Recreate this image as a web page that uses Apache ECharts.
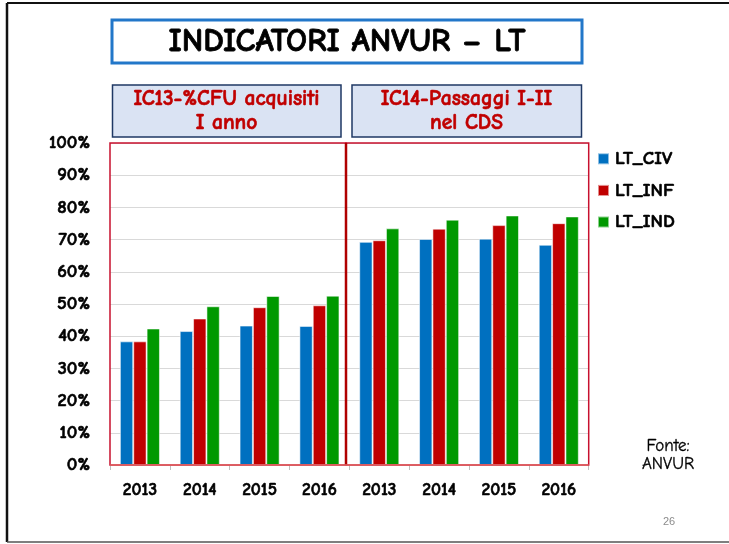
<!DOCTYPE html>
<html>
<head>
<meta charset="utf-8">
<script src="https://cdn.jsdelivr.net/npm/echarts@6/dist/echarts.min.js"></script>
<style>
html,body{margin:0;padding:0;background:#fff;}
#chart{width:729px;height:544px;}
</style>
</head>
<body>
<div id="chart"></div>
<script>
// ---- data ----
var years = ['2013', '2014', '2015', '2016', '2013', '2014', '2015', '2016'];
var seriesNames = ['LT_CIV', 'LT_INF', 'LT_IND'];
var civ = [38.4, 41.6, 43.3, 43.2, 69.3, 70.2, 70.3, 68.4];
var inf = [38.4, 45.5, 49.0, 49.6, 69.8, 73.4, 74.5, 75.1];
var ind = [42.4, 49.3, 52.5, 52.6, 73.5, 76.2, 77.5, 77.2];
var yTicks = [0, 10, 20, 30, 40, 50, 60, 70, 80, 90, 100];
var titleText = 'INDICATORI ANVUR \u2013 LT';
var panelTitles = ['IC13-%CFU acquisiti\nI anno', 'IC14-Passaggi I-II\nnel CDS'];
var sourceText = 'Fonte:\nANVUR';
var pageNumber = '26';

var FONT = "'Comic Sans MS', 'Comic Neue', 'DejaVu Sans', sans-serif";
var colors = ['#0070C0', '#C00000', '#009900'];

var G = {left: 110, right: 588.7, top: 143, bottom: 465};

var chart = echarts.init(document.getElementById('chart'), null, {renderer: 'canvas'});

function bar(name, data, color) {
  return {
    name: name, type: 'bar', data: data,
    barGap: '0%', barCategoryGap: '33%',
    itemStyle: {color: color, borderColor: 'rgba(255,255,255,0.55)', borderWidth: 1},
    z: 2
  };
}
function boldText(size, color, extra) {
  var s = {fontFamily: FONT, fontWeight: 'bold', fontSize: size, color: color, textBorderColor: color, textBorderWidth: 0.6};
  for (var k in (extra || {})) s[k] = extra[k];
  return s;
}

var option = {
  backgroundColor: '#ffffff',
  animation: false,
  color: colors,
  grid: {left: G.left, top: G.top, width: G.right - G.left, height: G.bottom - G.top, containLabel: false},
  legend: {
    orient: 'vertical', left: 597, top: 149, padding: 0,
    itemWidth: 11, itemHeight: 11, itemGap: 12,
    icon: 'rect',
    data: seriesNames,
    textStyle: boldText(19, '#000', {padding: [0, 0, 0, 1]})
  },
  xAxis: {
    type: 'category', data: years,
    axisLine: {show: false},
    axisTick: {show: true, length: 5, lineStyle: {color: '#BFBFBF'}},
    axisLabel: boldText(17.5, '#000', {margin: 16})
  },
  yAxis: {
    type: 'value', min: yTicks[0], max: yTicks[yTicks.length - 1], interval: yTicks[1] - yTicks[0],
    axisLine: {show: false}, axisTick: {show: false},
    splitLine: {lineStyle: {color: '#D9D9D9', width: 1}},
    axisLabel: boldText(18.5, '#000', {formatter: '{value}%', margin: 20})
  },
  series: [bar(seriesNames[0], civ, colors[0]), bar(seriesNames[1], inf, colors[1]), bar(seriesNames[2], ind, colors[2])],
  graphic: [
    // outer slide frame
    {type: 'line', shape: {x1: 7, y1: 3, x2: 729, y2: 3}, style: {stroke: '#111', lineWidth: 2}},
    {type: 'line', shape: {x1: 7, y1: 3, x2: 7, y2: 542}, style: {stroke: '#111', lineWidth: 2.5}},
    {type: 'line', shape: {x1: 7, y1: 542, x2: 729, y2: 542}, style: {stroke: '#555', lineWidth: 1.5}},
    // title
    {type: 'rect', shape: {x: 112, y: 20, width: 470, height: 43}, style: {fill: '#fff', stroke: '#2277C9', lineWidth: 3}},
    {type: 'text', x: 347, y: 42, style: {text: titleText, fontFamily: FONT, fontWeight: 'bold', fontSize: 33, fill: '#000', stroke: '#000', lineWidth: 0.8, align: 'center', verticalAlign: 'middle'}},
    // panel title boxes
    {type: 'rect', shape: {x: 112.5, y: 85, width: 228.5, height: 52}, style: {fill: '#DAE3F3', stroke: '#1F3864', lineWidth: 1.5}},
    {type: 'text', x: 226.5, y: 111, style: {text: panelTitles[0], fontFamily: FONT, fontWeight: 'bold', fontSize: 21.5, lineHeight: 24, fill: '#C00000', stroke: '#C00000', lineWidth: 0.6, align: 'center', verticalAlign: 'middle'}},
    {type: 'rect', shape: {x: 352, y: 85, width: 229.5, height: 52}, style: {fill: '#DAE3F3', stroke: '#1F3864', lineWidth: 1.5}},
    {type: 'text', x: 466.5, y: 111, style: {text: panelTitles[1], fontFamily: FONT, fontWeight: 'bold', fontSize: 21.5, lineHeight: 24, fill: '#C00000', stroke: '#C00000', lineWidth: 0.6, align: 'center', verticalAlign: 'middle'}},
    // panel frames
    {type: 'rect', z: 10, shape: {x: G.left, y: G.top, width: 346 - G.left, height: G.bottom - G.top}, style: {fill: null, stroke: '#C8102E', lineWidth: 1.5}},
    {type: 'rect', z: 10, shape: {x: 346, y: G.top, width: G.right - 346, height: G.bottom - G.top}, style: {fill: null, stroke: '#C8102E', lineWidth: 1.5}},
    {type: 'line', z: 11, shape: {x1: 346, y1: G.top, x2: 346, y2: G.bottom}, style: {stroke: '#B00000', lineWidth: 2.5}},
    {type: 'line', z: 11, shape: {x1: G.left, y1: G.bottom, x2: G.right, y2: G.bottom}, style: {stroke: '#E06666', lineWidth: 1.5}},
    // source & page number
    {type: 'text', x: 668, y: 455, style: {text: sourceText, fontFamily: FONT, fontSize: 17, lineHeight: 18, fill: '#000', stroke: '#000', lineWidth: 0.3, align: 'center', verticalAlign: 'middle'}},
    {type: 'text', x: 669, y: 522, style: {text: pageNumber, fontFamily: "'Liberation Sans', Arial, sans-serif", fontSize: 11, fill: '#8C8C8C', align: 'center', verticalAlign: 'middle'}}
  ]
};
chart.setOption(option);
</script>
</body>
</html>
